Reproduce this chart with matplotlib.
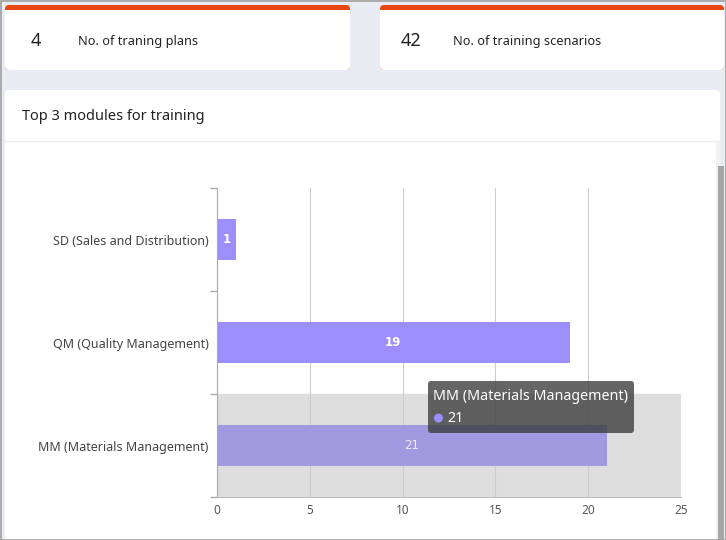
import matplotlib.pyplot as plt
from matplotlib.patches import FancyBboxPatch, Rectangle, Circle

# data
modules = ['MM (Materials Management)', 'QM (Quality Management)', 'SD (Sales and Distribution)']
counts = [21, 19, 1]
kpi_values = ['4', '42']
kpi_labels = ['No. of traning plans', 'No. of training scenarios']
x_ticks = [0, 5, 10, 15, 20, 25]
highlight = 'MM (Materials Management)'

plt.rcParams['font.family'] = ['Noto Sans', 'DejaVu Sans']

W, H = 726, 540
fig = plt.figure(figsize=(W / 100, H / 100), dpi=100)
fig.patch.set_facecolor('#e9edf3')

# background layer in pixel coordinates
bg = fig.add_axes([0, 0, 1, 1])
bg.set_xlim(0, W)
bg.set_ylim(H, 0)
bg.axis('off')

# kpi cards
for (x0, x1), val, lab in zip([(5, 350), (380, 724)], kpi_values, kpi_labels):
    bg.add_patch(FancyBboxPatch((x0, 5), x1 - x0, 65, boxstyle='round,pad=0,rounding_size=4',
                                fc='#e8470f', ec='none'))
    bg.add_patch(FancyBboxPatch((x0, 10), x1 - x0, 60, boxstyle='round,pad=0,rounding_size=4',
                                fc='white', ec='none'))
    bg.add_patch(Rectangle((x0, 10), x1 - x0, 6, fc='white', ec='none'))
    bg.text(x0 + 31, 41, val, fontsize=13, color='#222222', ha='center', va='center')
    bg.text(x0 + 73, 41, lab, fontsize=9.2, color='#222222', ha='left', va='center')

# main panel
bg.add_patch(FancyBboxPatch((5, 90), 715, 460, boxstyle='round,pad=0,rounding_size=4',
                            fc='white', ec='none'))
bg.text(22, 116, 'Top 3 modules for training', fontsize=10.5, color='#222222', va='center')
bg.plot([5, 720], [140.5, 140.5], color='#ececec', lw=1)
# scrollbar
bg.add_patch(Rectangle((716, 141), 4, 399, fc='#f2f2f2', ec='none'))
bg.add_patch(Rectangle((718, 166), 6, 374, fc='#a6a6a6', ec='none'))
# outer frame
bg.add_patch(Rectangle((0.5, 0.5), W - 1, H - 1, fill=False, ec='#a0a0a0', lw=1.2))

# chart
ax = fig.add_axes([217 / W, (H - 497) / H, (681 - 217) / W, (497 - 188) / H])
ax.set_facecolor('none')
ypos = list(range(len(modules)))
hi = modules.index(highlight)
ax.axhspan(hi - 0.5, hi + 0.5, color='#dedede', zorder=0)
colors = ['#a19ae0' if m == highlight else '#9c8ffb' for m in modules]
bars = ax.barh(ypos, counts, height=0.4, color=colors, zorder=2)
for y, c, m in zip(ypos, counts, modules):
    ax.text(c / 2, y, str(c), ha='center', va='center', fontsize=8.5,
            color='#eeeaff' if m == highlight else 'white', family='DejaVu Sans',
            fontweight='normal' if m == highlight else 'bold', zorder=3)

ax.set_xlim(0, 25)
ax.set_ylim(-0.5, len(modules) - 0.5)
ax.set_xticks(x_ticks)
ax.set_xticklabels([str(t) for t in x_ticks])
ax.set_yticks(ypos)
ax.set_yticklabels(modules)
ax.set_yticks([-0.5, 0.5, 1.5, 2.5], minor=True)
ax.tick_params(axis='y', which='major', length=0, pad=6, labelsize=9, labelcolor='#444444')
ax.tick_params(axis='y', which='minor', length=5, color='#aaaaaa', width=1)
ax.tick_params(axis='x', length=0, pad=5, labelsize=8.5, labelcolor='#555555')
ax.grid(axis='x', color='#cccccc', lw=0.8, zorder=1)
ax.set_axisbelow(True)
for s in ['top', 'right']:
    ax.spines[s].set_visible(False)
ax.spines['left'].set_color('#aaaaaa')
ax.spines['bottom'].set_color('#bbbbbb')

# tooltip overlay
ov = fig.add_axes([0, 0, 1, 1], zorder=10)
ov.set_xlim(0, W)
ov.set_ylim(H, 0)
ov.axis('off')
ov.add_patch(FancyBboxPatch((428, 381), 206, 52, boxstyle='round,pad=0,rounding_size=3',
                            fc='#3a3a3a', ec='none', alpha=0.78))
ov.text(433, 397, highlight, fontsize=10.3, color='white', va='center')
ov.add_patch(Circle((438.5, 418), 4.5, fc='#9c8ffb', ec='none'))
ov.text(447, 418, str(counts[hi]), fontsize=10.3, color='white', va='center')

fig.savefig('out.png', dpi=100)
